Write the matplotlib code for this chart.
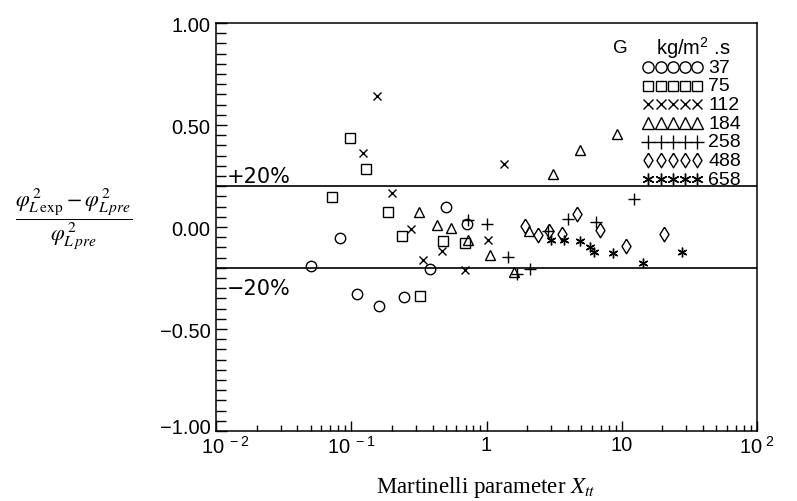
import matplotlib
matplotlib.use("Agg")
import matplotlib.pyplot as plt
import numpy as np
from matplotlib.ticker import FixedLocator, FixedFormatter, NullFormatter
from matplotlib.transforms import ScaledTranslation

plt.rcParams["font.family"] = ["Liberation Sans", "DejaVu Sans"]
plt.rcParams["mathtext.fontset"] = "custom"
plt.rcParams["mathtext.rm"] = "Liberation Sans"
plt.rcParams["mathtext.it"] = "Liberation Sans:italic"

# mass flux G (kg/m2.s) groups, Martinelli parameter and relative deviation
G_LABELS = ["37", "75", "112", "184", "258", "488", "658"]

xtt_37 = [0.050, 0.083, 0.111, 0.161, 0.247, 0.379, 0.506, 0.723]
dev_37 = [-0.19, -0.055, -0.33, -0.388, -0.343, -0.204, 0.096, 0.014]

xtt_75 = [0.072, 0.098, 0.129, 0.188, 0.239, 0.324, 0.480, 0.698]
dev_75 = [0.149, 0.434, 0.283, 0.073, -0.044, -0.337, -0.071, -0.080]

xtt_112 = [0.156, 0.123, 0.201, 0.278, 0.341, 0.472, 0.698, 1.02, 1.34]
dev_112 = [0.641, 0.361, 0.166, -0.009, -0.160, -0.120, -0.212, -0.064, 0.31]

xtt_184 = [0.319, 0.434, 0.551, 0.736, 1.07, 1.585, 2.05, 3.08, 4.89, 9.18]
dev_184 = [0.075, 0.012, -0.007, -0.065, -0.137, -0.219, -0.018, 0.258, 0.377, 0.458]

xtt_258 = [0.736, 1.0, 1.43, 1.67, 2.08, 2.83, 3.98, 6.42, 12.3]
dev_258 = [0.033, 0.015, -0.146, -0.229, -0.204, -0.022, 0.039, 0.025, 0.135]

xtt_488 = [1.91, 2.39, 2.88, 3.59, 4.64, 6.87, 10.7, 20.5]
dev_488 = [0.007, -0.037, -0.021, -0.035, 0.064, -0.014, -0.091, -0.035]

xtt_658 = [2.98, 3.72, 4.89, 5.79, 6.21, 8.58, 14.3, 27.8]
dev_658 = [-0.065, -0.065, -0.069, -0.098, -0.122, -0.125, -0.178, -0.122]

XTICKS = [1e-2, 1e-1, 1, 10, 100]
XTICK_LABELS = [r"10$^{\ -2}$", r"10$^{\ -1}$", "1", "10", r"10$^{\ 2}$"]
YTICKS = [-1.0, -0.5, 0.0, 0.5, 1.0]
YTICK_LABELS = ["\u22121.00", "\u22120.50", "0.00", "0.50", "1.00"]
BAND = 0.2

diamond = [(0, 1), (0.62, 0), (0, -1), (-0.62, 0), (0, 1)]
STYLES = [
    dict(marker="o", ms=7.5),
    dict(marker="s", ms=6.8),
    dict(marker="x", ms=6.0),
    dict(marker="^", ms=7.8),
    dict(marker="+", ms=8.5),
    dict(marker=diamond, ms=10.5),
    dict(marker=(6, 2, 0), ms=7.0),
]
LEGEND_MS = [8.1, 7.3, 7.0, 8.4, 9.5, 10.5, 8.5]

series = [
    (xtt_37, dev_37), (xtt_75, dev_75), (xtt_112, dev_112), (xtt_184, dev_184),
    (xtt_258, dev_258), (xtt_488, dev_488), (xtt_658, dev_658),
]

fig = plt.figure(figsize=(7.97, 5.02), dpi=100)
ax = fig.add_axes([216 / 797, 1 - 432 / 502, 541 / 797, 408 / 502])

for (xs, ys), st in zip(series, STYLES):
    ax.plot(xs, ys, linestyle="none", marker=st["marker"], ms=st["ms"],
            mfc="none", mec="black", mew=1.0, color="black")

ax.axhline(BAND, color="black", lw=1.2)
ax.axhline(-BAND, color="black", lw=1.2)
ax.text(0.0121, 0.25, "+20%", fontsize=15, va="center", ha="left", family="DejaVu Sans")
ax.text(0.0121, -0.30, "\u221220%", fontsize=15, va="center", ha="left", family="DejaVu Sans")

ax.set_xscale("log")
ax.set_xlim(1e-2, 1e2)
ax.set_ylim(-1.0, 1.0)

ax.xaxis.set_major_locator(FixedLocator(XTICKS))
ax.xaxis.set_major_formatter(FixedFormatter(XTICK_LABELS))
ax.xaxis.set_minor_locator(FixedLocator(
    [m * 10.0 ** e for e in range(-2, 2) for m in range(2, 10)]))
ax.xaxis.set_minor_formatter(NullFormatter())
ax.yaxis.set_major_locator(FixedLocator(YTICKS))
ax.yaxis.set_major_formatter(FixedFormatter(YTICK_LABELS))
ax.yaxis.set_minor_locator(FixedLocator(np.arange(-1.0, 1.001, 0.05)))

ax.tick_params(axis="both", which="both", direction="in", top=False, right=False,
               width=1.0, labelsize=14.5)
ax.tick_params(axis="y", which="major", length=8, pad=4)
ax.tick_params(axis="y", which="minor", length=7)
ax.tick_params(axis="x", which="major", length=7, pad=3)
ax.tick_params(axis="x", which="minor", length=4)
for sp in ax.spines.values():
    sp.set_linewidth(1.1)

# nudge the corner labels apart, as in the original scan
fig.canvas.draw()
first = ax.get_xticklabels()[0]
first.set_transform(first.get_transform() + ScaledTranslation(9 / 100, 0, fig.dpi_scale_trans))
bottom = ax.get_yticklabels()[0]
bottom.set_transform(bottom.get_transform() + ScaledTranslation(0, 5 / 100, fig.dpi_scale_trans))

# legend drawn by hand: five markers per row, value to the right
ax.text(0.747, 0.941, "G", fontsize=13.5, ha="center", va="center", transform=ax.transAxes)
ax.text(0.813, 0.941, r"kg/m$^{2}$ .s", fontsize=14.5, ha="left", va="center",
        transform=ax.transAxes)
row_x = np.linspace(0.799, 0.890, 5)
for i, (lab, st) in enumerate(zip(G_LABELS, STYLES)):
    yy = 0.892 - i * 0.0458
    ax.plot(row_x, [yy] * 5, linestyle="none", marker=st["marker"], ms=LEGEND_MS[i],
            mfc="none", mec="black", mew=1.0, transform=ax.transAxes, clip_on=False)
    ax.text(0.910, yy, lab, fontsize=14, ha="left", va="center", transform=ax.transAxes)

fig.text(74 / 797, 1 - 219 / 502,
         r"$\dfrac{\varphi^{\,2}_{L\,\mathrm{exp}}-\varphi^{\,2}_{L\,pre}}{\varphi^{\,2}_{L\,pre}}$",
         fontsize=16, ha="center", va="center", math_fontfamily="stix")
fig.text(486 / 797, 1 - 488 / 502, r"Martinelli parameter $X_{tt}$", fontsize=16.5,
         family="Liberation Serif", ha="center", va="center", math_fontfamily="stix")

fig.savefig("out.png", dpi=100)
